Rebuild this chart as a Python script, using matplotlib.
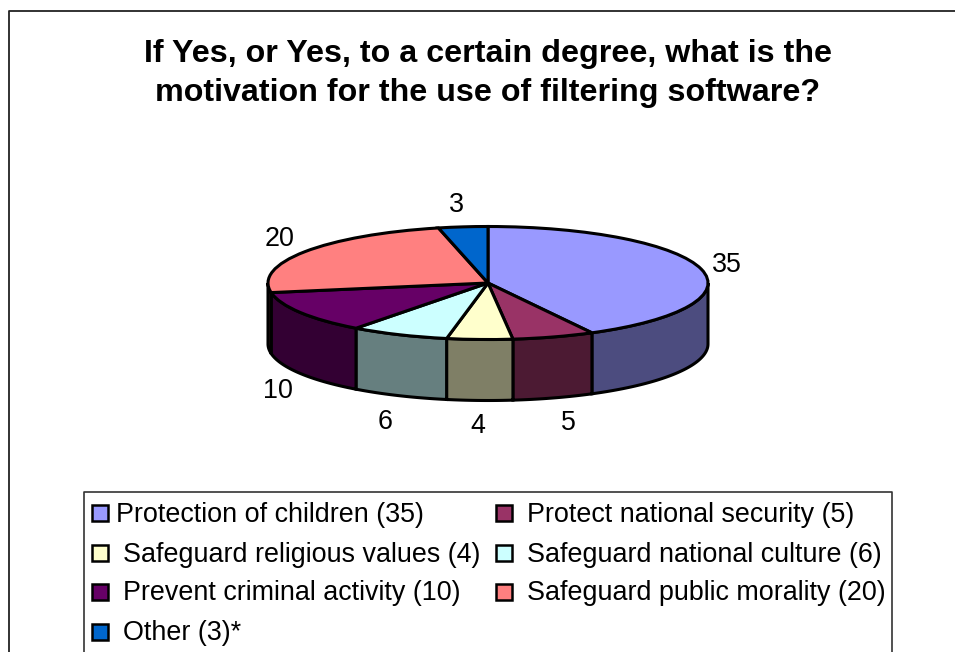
import numpy as np
import matplotlib
matplotlib.use("Agg")
import matplotlib.pyplot as plt
from matplotlib.patches import Rectangle

plt.rcParams['font.family'] = ['Liberation Sans', 'DejaVu Sans']

title = "If Yes, or Yes, to a certain degree, what is the\nmotivation for the use of filtering software?"
categories = ["Protection of children (35)", "Protect national security (5)",
              "Safeguard religious values (4)", "Safeguard national culture (6)",
              "Prevent criminal activity (10)", "Safeguard public morality (20)",
              "Other (3)*"]
values = [35, 5, 4, 6, 10, 20, 3]
top_colors = ["#9999FF", "#993366", "#FFFFCC", "#CCFFFF", "#660066", "#FF8080", "#0066CC"]
side_colors = ["#4C4C7F", "#4C1A33", "#7F7F66", "#667F7F", "#330033", "#7F4040", "#003366"]

W, H = 955, 652
fig = plt.figure(figsize=(W / 100, H / 100), dpi=100, facecolor="white")

# overlay in pixel coordinates
ov = fig.add_axes([0, 0, 1, 1], zorder=3)
ov.set_xlim(0, W)
ov.set_ylim(H, 0)
ov.axis("off")

# pie axes: a squashed circle gives the tilted disc
cx, cy, rx, ry, depth = 488, 283, 220, 56.5, 61
ax = fig.add_axes([(cx - 1.25 * rx) / W, 1 - (cy + 1.25 * ry) / H, 2.5 * rx / W, 2.5 * ry / H], zorder=2)
ax.pie(values, colors=top_colors, startangle=90, counterclock=False, radius=1,
       wedgeprops=dict(edgecolor="black", linewidth=2.2, zorder=5))
ax.set_aspect("auto")
ax.patch.set_alpha(0)

d = depth / ry
edges = 90 - 360 * np.cumsum([0] + values) / sum(values)
for a0, a1, col in zip(edges[:-1], edges[1:], side_colors):
    lo, hi = max(a1, -180), min(a0, 0)
    if lo >= hi:
        continue
    t = np.radians(np.linspace(hi, lo, 60))
    xs = np.r_[np.cos(t), np.cos(t[::-1])]
    ys = np.r_[np.sin(t), np.sin(t[::-1]) - d]
    ax.fill(xs, ys, facecolor=col, edgecolor="black", linewidth=2.2, zorder=2, clip_on=False)

# value labels
label_pos = [(727, 265), (568, 423), (478, 426), (385, 422), (278, 391), (280, 239), (456, 205)]
for v, (x, y) in zip(values, label_pos):
    ov.text(x, y, str(v), fontsize=19.4, ha="center", va="center", color="black")

# title
ov.text(488, 73.5, title, fontsize=23.2, fontweight="bold", ha="center", va="center",
        linespacing=1.39, color="black")

# chart frame
ov.plot([8.5, 8.5, W], [H, 11, 11], color="#222222", lw=1.3, clip_on=False)

# legend box
ov.plot([83.5, 83.5, 892, 892], [H, 492, 492, H], color="#333333", lw=1.2, clip_on=False)
rows = [513, 553, 592, 632]
for i, (name, col) in enumerate(zip(categories, top_colors)):
    r, c = i // 2, i % 2
    sx = 92 if c == 0 else 496
    tx = (116 if i == 0 else 123) if c == 0 else 527
    ov.add_patch(Rectangle((sx, rows[r] - 8), 16, 16, facecolor=col, edgecolor="black", lw=1.8))
    ov.text(tx, rows[r] + 1.5, name, fontsize=19.4, ha="left", va="center", color="black")

fig.savefig("out.png", dpi=100, facecolor="white")
